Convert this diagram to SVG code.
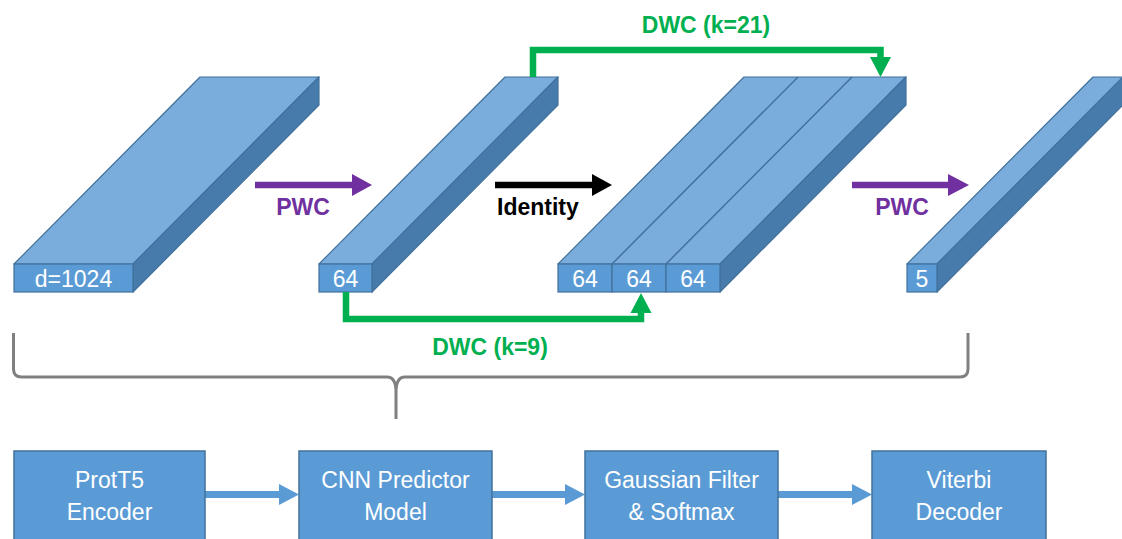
<svg xmlns="http://www.w3.org/2000/svg" width="1122" height="539" viewBox="0 0 1122 539">
<style>
.top{fill:#7aaddb;stroke:#41719c;stroke-width:1.2;stroke-linejoin:round}
.side{fill:#477bab;stroke:#41719c;stroke-width:1.2;stroke-linejoin:round}
.front{fill:#5b9bd5;stroke:#41719c;stroke-width:1.2}
.div{fill:none;stroke:#41719c;stroke-width:1.5}
.cell{font-family:"Liberation Sans",Arial,sans-serif;font-size:23px;fill:#ffffff;text-anchor:middle}
.lbl{font-family:"Liberation Sans",Arial,sans-serif;font-size:23px;font-weight:bold}
.box{fill:#5b9bd5;stroke:#41719c;stroke-width:1.5}
.btxt{font-family:"Liberation Sans",Arial,sans-serif;font-size:23px;fill:#ffffff;text-anchor:middle}
</style>
<rect width="1122" height="539" fill="#ffffff"/>

<g id="block-d1024">
<polygon class="top" points="14,264 200,77 319,77 133,264"/>
<polygon class="side" points="133,264 319,77 319,105 133,292"/>
<rect class="front" x="14" y="264" width="119" height="28"/>
<text class="cell" x="73.5" y="287">d=1024</text>
</g>

<g id="block-64a">
<polygon class="top" points="319,264 505,77 558,77 372,264"/>
<polygon class="side" points="372,264 558,77 558,105 372,292"/>
<rect class="front" x="319" y="264" width="53" height="28"/>
<text class="cell" x="345.5" y="287">64</text>
</g>

<g id="block-concat">
<polygon class="top" points="558,264 744,77 906,77 720,264"/>
<polygon class="side" points="720,264 906,77 906,105 720,292"/>
<line class="div" x1="612" y1="264" x2="798" y2="77"/>
<line class="div" x1="666" y1="264" x2="852" y2="77"/>
<rect class="front" x="558" y="264" width="54" height="28"/>
<rect class="front" x="612" y="264" width="54" height="28"/>
<rect class="front" x="666" y="264" width="54" height="28"/>
<text class="cell" x="585" y="287">64</text>
<text class="cell" x="639" y="287">64</text>
<text class="cell" x="693" y="287">64</text>
</g>

<g id="block-5">
<polygon class="top" points="907,264 1093,77 1123,77 937,264"/>
<polygon class="side" points="937,264 1123,77 1123,105 937,292"/>
<rect class="front" x="907" y="264" width="30" height="28"/>
<text class="cell" x="922" y="287">5</text>
</g>

<g id="connectors">
<!-- PWC 1 -->
<line x1="255" y1="185" x2="354" y2="185" stroke="#7030a0" stroke-width="6.5"/>
<polygon points="352,174 372,185 352,196" fill="#7030a0"/>
<!-- Identity -->
<line x1="495" y1="185" x2="594" y2="185" stroke="#000000" stroke-width="6.5"/>
<polygon points="592,174 612,185 592,196" fill="#000000"/>
<!-- PWC 2 -->
<line x1="852" y1="185" x2="950" y2="185" stroke="#7030a0" stroke-width="6.5"/>
<polygon points="948,174 969,185 948,196" fill="#7030a0"/>
<!-- DWC k=21 -->
<polyline points="533,77 533,50 880.5,50 880.5,59" fill="none" stroke="#00b050" stroke-width="6.5" stroke-linejoin="miter"/>
<polygon points="870,57 891,57 880.5,77" fill="#00b050"/>
<!-- DWC k=9 -->
<polyline points="346,292 346,319 641,319 641,311" fill="none" stroke="#00b050" stroke-width="6.5" stroke-linejoin="miter"/>
<polygon points="630.5,313 651.5,313 641,293" fill="#00b050"/>
<!-- brace -->
<path d="M13.5,333 L13.5,369 Q13.5,377 21.5,377 L387,377 Q396,377 396,392 L396,419 M396,392 Q396,377 405,377 L960,377 Q968,377 968,369 L968,333" fill="none" stroke="#808080" stroke-width="3"/>
<!-- bottom arrows -->
<line x1="205" y1="494.5" x2="281" y2="494.5" stroke="#5b9bd5" stroke-width="7"/>
<polygon points="279,484 299,494.5 279,505" fill="#5b9bd5"/>
<line x1="492" y1="494.5" x2="567" y2="494.5" stroke="#5b9bd5" stroke-width="7"/>
<polygon points="565,484 585,494.5 565,505" fill="#5b9bd5"/>
<line x1="778" y1="494.5" x2="854" y2="494.5" stroke="#5b9bd5" stroke-width="7"/>
<polygon points="852,484 872,494.5 852,505" fill="#5b9bd5"/>
</g>

<g id="labels">
<text class="lbl" x="303" y="215" fill="#7030a0" text-anchor="middle">PWC</text>
<text class="lbl" x="497" y="215" fill="#000000">Identity</text>
<text class="lbl" x="902" y="215" fill="#7030a0" text-anchor="middle">PWC</text>
<text class="lbl" x="706" y="33" fill="#00b050" text-anchor="middle">DWC (k=21)</text>
<text class="lbl" x="490" y="355" fill="#00b050" text-anchor="middle">DWC (k=9)</text>
</g>

<g id="box-prott5">
<rect class="box" x="14" y="451" width="191" height="100"/>
<text class="btxt" x="109.5" y="488">ProtT5</text>
<text class="btxt" x="109.5" y="520">Encoder</text>
</g>
<g id="box-cnn">
<rect class="box" x="299" y="451" width="193" height="100"/>
<text class="btxt" x="395.5" y="488">CNN Predictor</text>
<text class="btxt" x="395.5" y="520">Model</text>
</g>
<g id="box-gauss">
<rect class="box" x="585" y="451" width="193" height="100"/>
<text class="btxt" x="681.5" y="488">Gaussian Filter</text>
<text class="btxt" x="681.5" y="520">&amp; Softmax</text>
</g>
<g id="box-viterbi">
<rect class="box" x="872" y="451" width="174" height="100"/>
<text class="btxt" x="959" y="488">Viterbi</text>
<text class="btxt" x="959" y="520">Decoder</text>
</g>
</svg>
